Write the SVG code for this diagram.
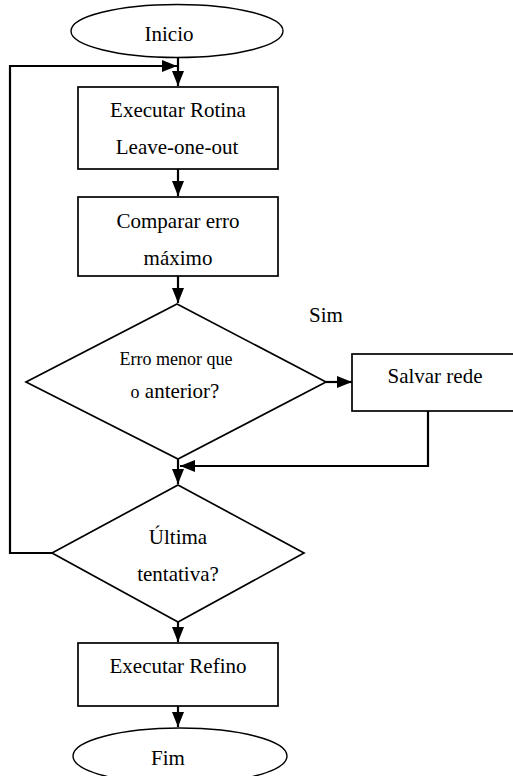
<svg xmlns="http://www.w3.org/2000/svg" width="513" height="776" viewBox="0 0 513 776">
  <style>
    .shape { fill: #fff; stroke: #000; stroke-width: 1.7; }
    .term { fill: #fff; stroke: #000; stroke-width: 1.4; }
    .label { font-family: "Liberation Serif", "Times New Roman", serif; font-size: 21px; fill: #000; text-anchor: middle; }
    .small { font-size: 18px; }
    .edge { fill: none; stroke: #000; stroke-width: 2.2; }
  </style>
  <defs>
    <marker id="arrow" viewBox="0 0 15 12" refX="15" refY="6" markerWidth="15" markerHeight="12" markerUnits="userSpaceOnUse" orient="auto">
      <path d="M0,0 L15,6 L0,12 z" fill="#000"/>
    </marker>
  </defs>

  <!-- connectors -->
  <g id="connectors">
    <path class="edge" d="M178,57 V86" marker-end="url(#arrow)"/>
    <path class="edge" d="M178,169 V196" marker-end="url(#arrow)"/>
    <path class="edge" d="M178,276 V303" marker-end="url(#arrow)"/>
    <path class="edge" d="M326,382 H352" marker-end="url(#arrow)"/>
    <path class="edge" d="M428,411 V466 H180" marker-end="url(#arrow)"/>
    <path class="edge" d="M178,459 V484" marker-end="url(#arrow)"/>
    <path class="edge" d="M52,553 H10 V66 H177" marker-end="url(#arrow)"/>
    <path class="edge" d="M178,622 V642" marker-end="url(#arrow)"/>
    <path class="edge" d="M178,706 V727" marker-end="url(#arrow)"/>
  </g>

  <g id="inicio">
    <ellipse class="term" cx="177" cy="31" rx="106" ry="26.5"/>
    <text class="label" x="169" y="41">Inicio</text>
  </g>

  <g id="rotina">
    <rect class="shape" x="78" y="87" width="200" height="82"/>
    <text class="label" x="178" y="117">Executar Rotina</text>
    <text class="label" x="177" y="154">Leave-one-out</text>
  </g>

  <g id="comparar">
    <rect class="shape" x="78" y="197" width="200" height="79"/>
    <text class="label" x="178" y="228">Comparar erro</text>
    <text class="label" x="178" y="265">máximo</text>
  </g>

  <g id="decisao-erro">
    <polygon class="shape" points="177,304 326,382 178,459 26,382"/>
    <text class="label small" x="176" y="365">Erro menor que</text>
    <text class="label" x="175" y="398"><tspan class="small">o</tspan> anterior?</text>
  </g>

  <g id="sim">
    <text class="label" x="326" y="322">Sim</text>
  </g>

  <g id="salvar">
    <rect class="shape" x="352" y="354" width="170" height="57"/>
    <text class="label" x="435" y="383">Salvar rede</text>
  </g>

  <g id="decisao-ultima">
    <polygon class="shape" points="178,485 304,553 178,622 52,553"/>
    <text class="label" x="178" y="544">Última</text>
    <text class="label" x="178" y="581">tentativa?</text>
  </g>

  <g id="refino">
    <rect class="shape" x="78" y="643" width="200" height="63"/>
    <text class="label" x="178" y="673">Executar Refino</text>
  </g>

  <g id="fim">
    <ellipse class="term" cx="180" cy="756" rx="107" ry="28"/>
    <text class="label" x="168" y="765">Fim</text>
  </g>
</svg>
